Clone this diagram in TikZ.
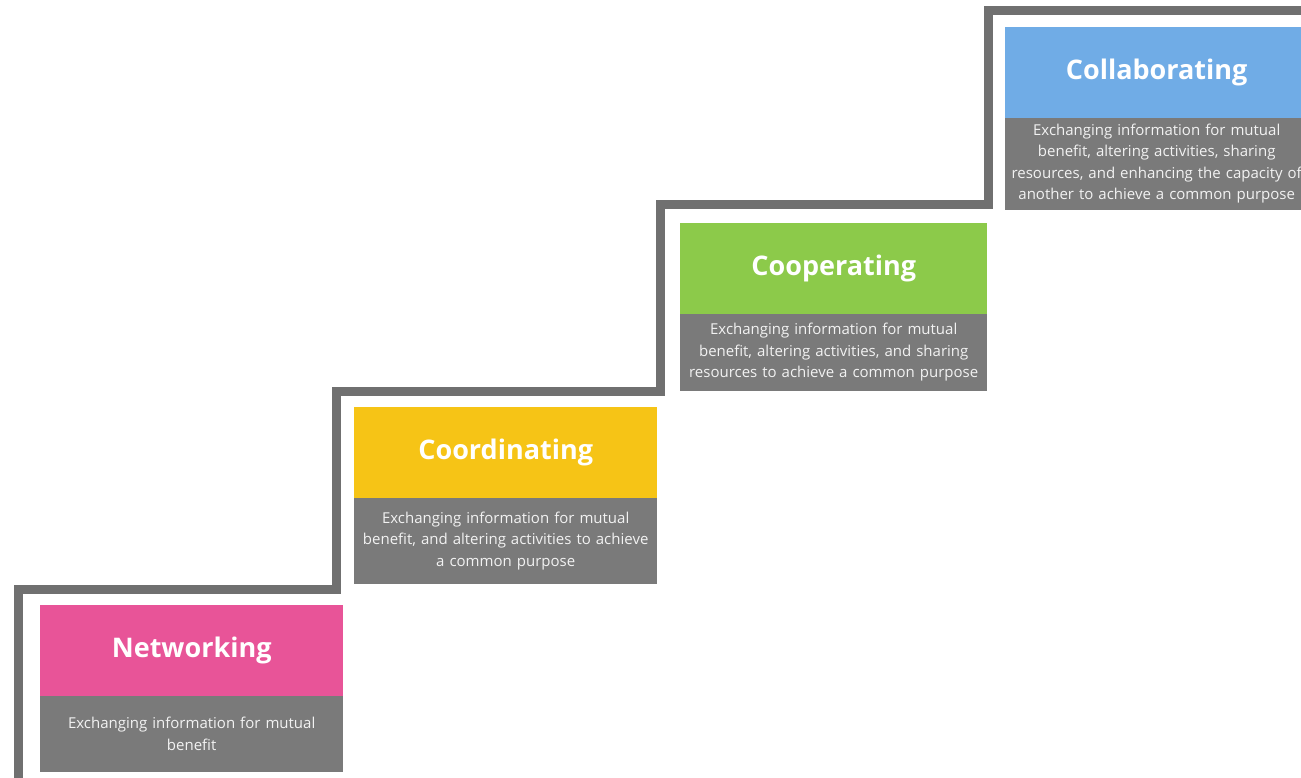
\documentclass[tikz,border=0pt]{standalone}
\usepackage{fontspec}
\setmainfont{Open Sans}
\usetikzlibrary{positioning}

\definecolor{netpink}{RGB}{232,84,152}
\definecolor{coordyellow}{RGB}{246,196,22}
\definecolor{coopgreen}{RGB}{140,202,74}
\definecolor{collabblue}{RGB}{112,172,230}
\definecolor{boxgray}{RGB}{122,122,122}
\definecolor{stairgray}{RGB}{112,112,112}

\begin{document}
\begin{tikzpicture}[x=1pt,y=1pt,
  titlebox/.style={fill=#1,text=white,font=\fontsize{27}{32}\selectfont\bfseries,
    minimum width=303pt,minimum height=91pt,inner sep=0pt,anchor=north west},
  descbox/.style={fill=boxgray,text=white!90!boxgray,font=\fontsize{15}{21.5}\selectfont,
    text width=297pt,inner xsep=3pt,inner ysep=0pt,align=center,minimum height=#1},
  stair/.style={draw=stairgray,line width=9pt,miter limit=10}]
\useasboundingbox (0,0) rectangle (1301,778);

%stairs
\draw[stair] (18,-10) -- (18,188) -- (336,188) -- (336,386) -- (660,386)
  -- (660,573) -- (988,573) -- (988,767) -- (1320,767);

\node [titlebox=netpink] (net) at(40,173){Networking};
\node [descbox=76pt,below=-1pt of net] (netd){Exchanging information for mutual\\benefit};

\node [titlebox=coordyellow] (coord) at(354,371){Coordinating};
\node [descbox=86pt,below=-1pt of coord] (coordd){Exchanging information for mutual\\benefit, and altering activities to achieve\\a common purpose};

\node [titlebox=coopgreen,minimum width=307pt] (coop) at(680,555){Cooperating};
\node [descbox=77pt,text width=301pt,below=-1pt of coop] (coopd){Exchanging information for mutual\\benefit, altering activities, and sharing\\resources to achieve a common purpose};

\node [titlebox=collabblue] (collab) at(1005,751){Collaborating};
\node [descbox=92pt,below=-1pt of collab] (collabd){Exchanging information for mutual\\benefit, altering activities, sharing\\resources, and enhancing the capacity of\\another to achieve a common purpose};
\end{tikzpicture}
\end{document}
